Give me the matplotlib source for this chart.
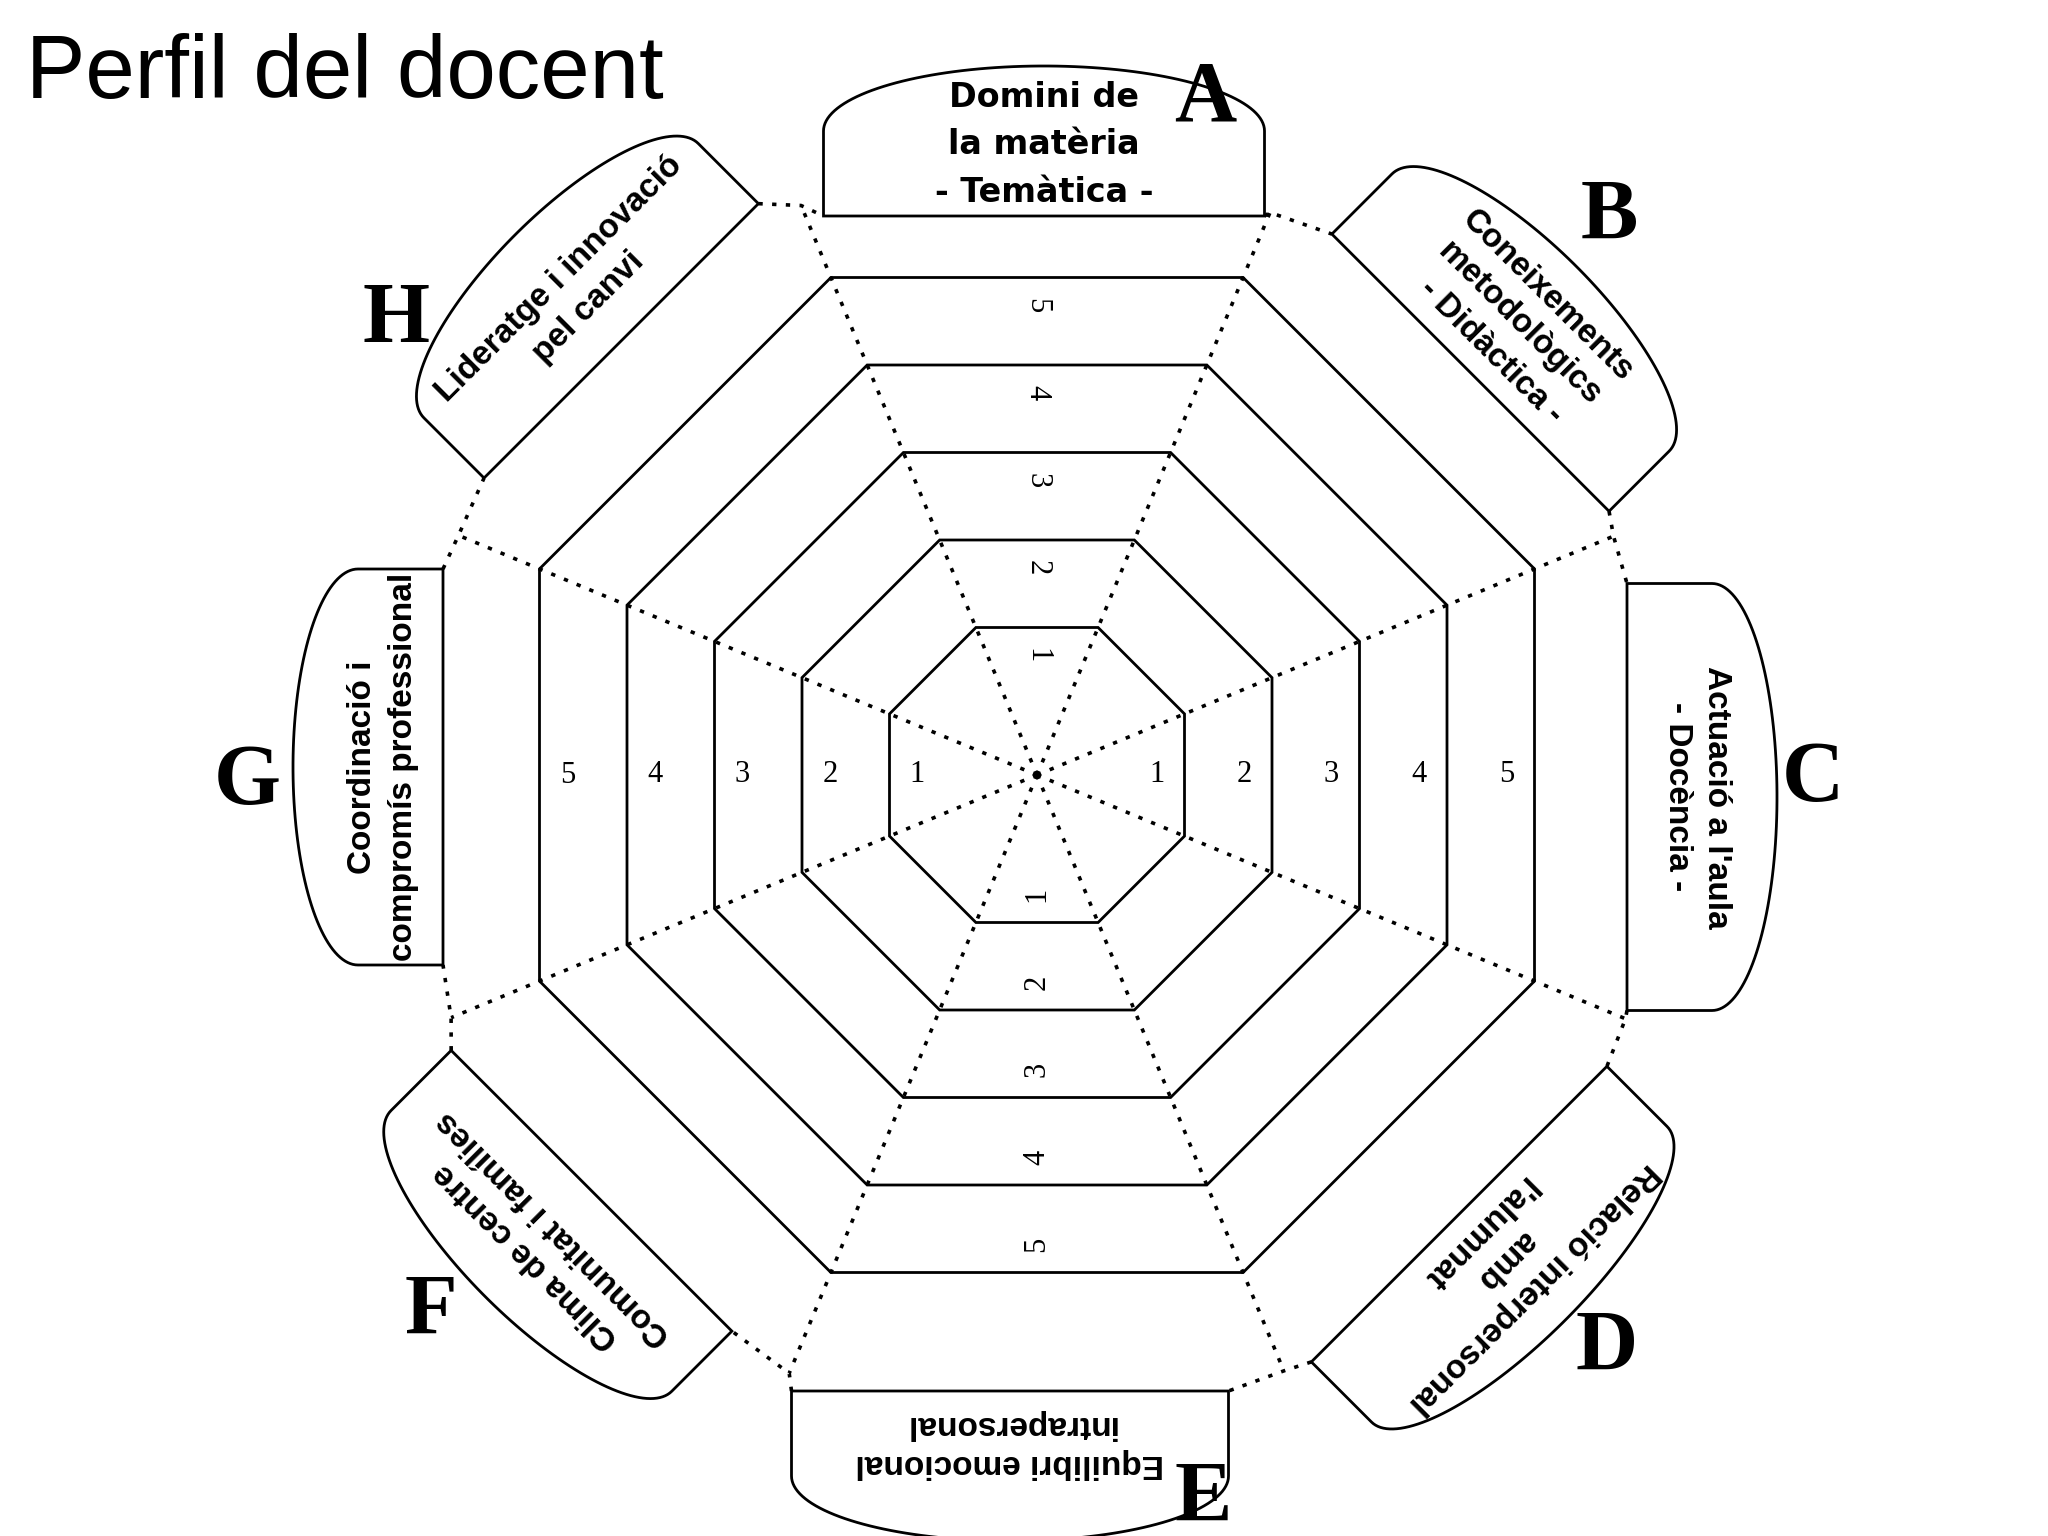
import numpy as np
import matplotlib
matplotlib.use("Agg")
import matplotlib.pyplot as plt
from matplotlib.patches import Polygon

# ---------------- data ----------------
title = "Perfil del docent"
letters = ["A", "B", "C", "D", "E", "F", "G", "H"]
dimensions = [
    "Domini de\nla matèria\n- Temàtica -",
    "Coneixements\nmetodològics\n- Didàctica -",
    "Actuació a l'aula\n- Docència -",
    "Relació interpersonal\namb\nl'alumnat",
    "Equilibri emocional\nintrapersonal",
    "Clima de centre\nComunitat i famílies",
    "Coordinació i\ncompromís professional",
    "Lideratge i innovació\npel canvi",
]
levels = [1, 2, 3, 4, 5]
numbered_axes = ["A", "C", "E", "G"]

# ---------------- layout ----------------
W, H = 2048, 1536
fig = plt.figure(figsize=(20.48, 15.36), dpi=100)
ax = fig.add_axes([0, 0, 1, 1])
ax.set_xlim(0, W)
ax.set_ylim(H, 0)
ax.set_aspect("equal")
ax.axis("off")

cx, cy = 1037, 775
axis_angles = [90 - 45 * i for i in range(len(letters))]
HALF = 22.5
box_r0 = [559, 591, 590, 609, 616, 609, 594, 601]     # inner edge of each label box
box_w = [441, 392, 427, 418, 437, 397, 396, 388]
box_t0 = [7, 22, 22, 12, 27, 21, 8, 13]               # sideways shift of each box
text_du = [71, 69, 70, 66, 53, 73, 60, 67]            # text centre above inner edge
text_ls = [1.55, 1.35, 1.35, 1.35, 1.35, 1.35, 1.45, 1.4]
BOX_H1 = 85
BOX_H2 = 65


def level_r(k):
    return 60 + 87.5 * k


def P(r, ang):
    a = np.radians(ang)
    return cx + r * np.cos(a), cy - r * np.sin(a)


def octagon(apothem):
    rv = apothem / np.cos(np.radians(HALF))
    return [P(rv, HALF + 45 * i) for i in range(8)]


def local(u, t, ang):
    a = np.radians(ang)
    gx = u * np.cos(a) + t * np.sin(a)
    gy = u * np.sin(a) - t * np.cos(a)
    return cx + gx, cy - gy


lw_line = 2.0
dot_style = (0, (1.2, 2.6))

# spokes end in the gaps between neighbouring boxes
n = len(letters)
for i in range(n):
    j = (i + 1) % n
    c1 = local(box_r0[i], box_t0[i] + box_w[i] / 2, axis_angles[i])
    c2 = local(box_r0[j], box_t0[j] - box_w[j] / 2, axis_angles[j])
    mx, my = (c1[0] + c2[0]) / 2, (c1[1] + c2[1]) / 2
    r_end = np.hypot(mx - cx, my - cy)
    ex, ey = P(r_end, axis_angles[i] - 22.5)
    ax.plot([cx, ex], [cy, ey], color="black", lw=2.6, linestyle=dot_style,
            solid_capstyle="butt", zorder=2)
    ax.plot([c1[0], ex, c2[0]], [c1[1], ey, c2[1]], color="black", lw=2.6,
            linestyle=dot_style, solid_capstyle="butt", zorder=2)

# level octagons
for k in levels:
    ax.add_patch(Polygon(octagon(level_r(k)), closed=True, fill=False,
                         edgecolor="black", lw=lw_line, zorder=3))

# level numbers on the four main axes
digit_rot = {"A": -90, "C": 0, "E": 90, "G": 0}
for letter, ang in zip(letters, axis_angles):
    if letter not in numbered_axes:
        continue
    for k in levels:
        x, y = P(level_r(k) - 28, ang)
        ax.text(x, y, str(k), fontsize=22, family="Liberation Serif",
                rotation=digit_rot[letter], ha="center", va="center",
                rotation_mode="anchor", zorder=4)

# label boxes
theta = np.linspace(0, np.pi, 80)
for idx, (letter, label, ang) in enumerate(zip(letters, dimensions, axis_angles)):
    R0, BW, t0 = box_r0[idx], box_w[idx], box_t0[idx]
    pts = [local(R0, t0 - BW / 2, ang), local(R0, t0 + BW / 2, ang),
           local(R0 + BOX_H1, t0 + BW / 2, ang)]
    for th in theta:
        pts.append(local(R0 + BOX_H1 + BOX_H2 * np.sin(th),
                         t0 + BW / 2 * np.cos(th), ang))
    pts.append(local(R0 + BOX_H1, t0 - BW / 2, ang))
    ax.add_patch(Polygon(pts, closed=True, facecolor="white",
                         edgecolor="black", lw=2.0, zorder=5))
    rot = ang - 90
    if rot <= -180:
        rot += 360
    tx, ty = local(R0 + text_du[idx], t0, ang)
    fam = "DejaVu Sans" if letter == "A" else "Liberation Sans"
    ax.text(tx, ty, label, fontsize=24, fontweight="bold",
            family=fam, rotation=rot, ha="center", va="center",
            rotation_mode="anchor", multialignment="center",
            linespacing=text_ls[idx], zorder=6)

# big letters
letter_pos = [(696, 76.0), (798, 44.2), (776, -0.4), (809, -45.2),
              (744, -77.1), (810, -138.4), (790, 180.6), (785, 144.7)]
for letter, (r, a) in zip(letters, letter_pos):
    x, y = P(r, a)
    ax.text(x, y, letter, fontsize=62, fontweight="bold",
            family="Liberation Serif", ha="center", va="center", zorder=7)

# title
ax.text(26, 98, title, fontsize=64, family="Liberation Sans",
        ha="left", va="baseline", zorder=7)

fig.savefig("out.png", dpi=100, facecolor="white")
